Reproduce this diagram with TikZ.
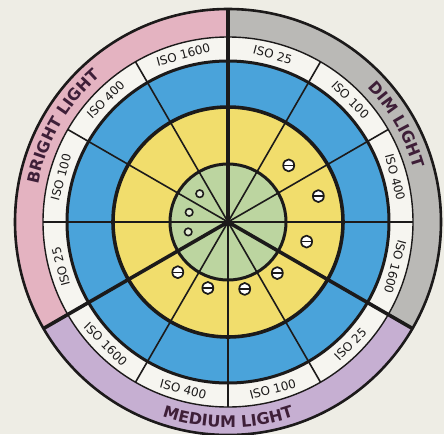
\documentclass[tikz,border=0pt]{standalone}
\usepackage{fontspec}
\setmainfont{DejaVu Sans}
\usetikzlibrary{decorations.text,shapes.geometric}
\definecolor{paper}{HTML}{EEEDE5}
\definecolor{ink}{HTML}{1C1A1A}
\definecolor{brightpink}{HTML}{E4B3C1}
\definecolor{dimgray}{HTML}{BAB9B6}
\definecolor{mediumlilac}{HTML}{C6AFD2}
\definecolor{isowhite}{HTML}{F6F5F0}
\definecolor{slowblue}{HTML}{4AA3DA}
\definecolor{midyellow}{HTML}{F1DD6C}
\definecolor{hubgreen}{HTML}{BCD5A0}
\definecolor{maroon}{HTML}{3E1F38}

\begin{document}
\begin{tikzpicture}[x=1pt,y=1pt,line join=round,
  spoke/.style={ink,line width=1.6},
  heavy/.style={ink,line width=3.6},
  ring/.style={ink,line width=#1},
  isolabel/.style={font=\fontsize{12}{12}\selectfont,text=ink,inner sep=0},
  minus/.style={draw=ink,line width=1.7,fill=white,ellipse,minimum width=11,minimum height=12,inner sep=0,
    path picture={\draw[ink,line width=1.4] (path picture bounding box.west) -- (path picture bounding box.east);}},
  hollow/.style={draw=ink,line width=1.6,fill=hubgreen!40!white,circle,minimum size=7.5,inner sep=0},
  lighttext/.style={decorate,decoration={text along path,text align=center,
    text={|\fontsize{16}{16}\bfseries\selectfont\color{maroon}|#1}}}]
\clip (-228,-212) rectangle (216,222);
\fill[paper] (-228,-212) rectangle (216,222);
\coordinate (hub) at (0,0);
\foreach \a/\c in {90/brightpink,210/mediumlilac,-30/dimgray}
  \fill[\c] (\a:185) arc[start angle=\a,delta angle=120,radius=185] -- (\a+120:214)
    arc[start angle=\a+120,delta angle=-120,radius=214] -- cycle;
\fill[isowhite] (hub) circle[radius=185];
\fill[slowblue] (hub) circle[radius=161];
\fill[midyellow] (hub) circle[radius=115];
\fill[hubgreen] (hub) circle[radius=58];
\foreach \a in {0,30,60,120,150,180,240,270,300} \draw[spoke] (hub) -- (\a:185);
\foreach \a in {90,210,330} \draw[heavy] (hub) -- (\a:214);
\draw[ring=2.6] (hub) circle[radius=213];
\draw[ring=1.4] (hub) circle[radius=185];
\draw[ring=3] (hub) circle[radius=161];
\draw[ring=3.6] (hub) circle[radius=115];
\draw[ring=3] (hub) circle[radius=58];
\foreach \a/\r/\t [count=\i] in {75/-15/25,45/-45/100,15/-75/400,-15/-105/1600,-45/45/25,-75/15/100,
    -105/-15/400,-135/-45/1600,-165/105/25,165/75/100,135/45/400,105/15/1600}
  \node[isolabel,rotate=\r] (iso\i) at (\a:173) {ISO \t};
\path[lighttext=BRIGHT LIGHT] (180:193.5) arc[start angle=180,end angle=120,radius=193.5];
\path[lighttext=DIM LIGHT] (60:193.5) arc[start angle=60,end angle=0,radius=193.5];
\path[lighttext=MEDIUM LIGHT] (-125:205.5) arc[start angle=-125,end angle=-55,radius=205.5];
\foreach \p [count=\i] in {43:83,16:94,-14:81,-46:71,-76:69,-107:69,-135:71} \node[minus] (m\i) at (\p) {};
\foreach \p [count=\i] in {135:40,166:40,-166:41} \node[hollow] (o\i) at (\p) {};
\end{tikzpicture}
\end{document}
